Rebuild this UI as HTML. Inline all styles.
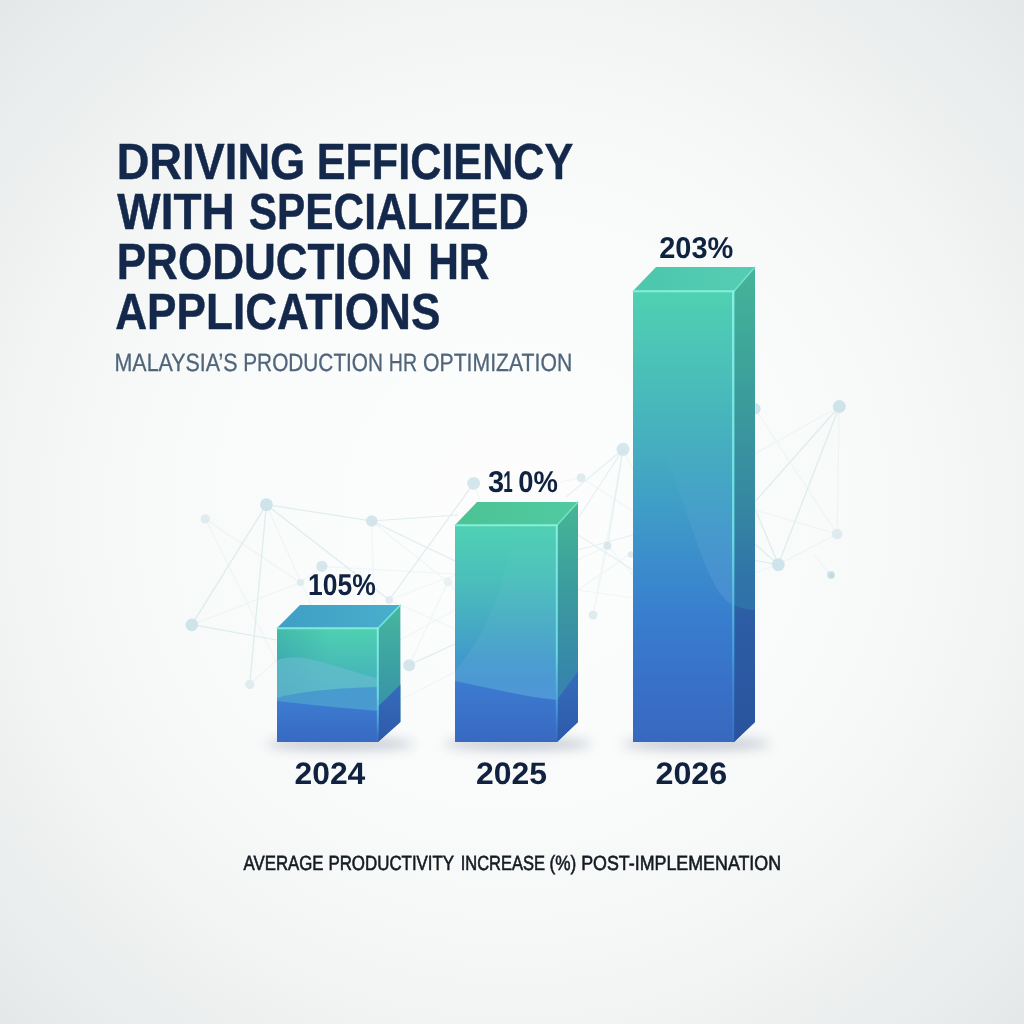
<!DOCTYPE html>
<html lang="en">
<head>
<meta charset="utf-8">
<title>Driving Efficiency with Specialized Production HR Applications</title>
<style>
html,body{margin:0;padding:0;}
body{width:1024px;height:1024px;overflow:hidden;background:#f3f4f5;font-family:"Liberation Sans",Arial,sans-serif;}
#stage{position:relative;width:1024px;height:1024px;overflow:hidden;
 background:radial-gradient(circle farthest-corner at 50% 50%, #fdfdfd 0%, #fbfcfc 22%, #f9fafa 42%, #f7f8f8 54%, #f5f6f6 62%, #f2f3f3 70%, #ebeeee 86%, #e4e8e9 100%);}
svg{position:absolute;left:0;top:0;}
text{font-family:"Liberation Sans",Arial,sans-serif;text-rendering:geometricPrecision;}
.title{font-weight:700;font-size:51px;fill:#13284a;stroke:#13284a;stroke-width:.45px;}
.sub{font-size:25px;fill:#50657a;stroke:#50657a;stroke-width:.3px;}
.val{font-weight:700;font-size:30px;fill:#0f2240;}
.year{font-weight:700;font-size:31px;fill:#10223f;}
.foot{font-size:20.5px;fill:#141a23;stroke:#141a23;stroke-width:.6px;}
.ln{stroke:#c3e0e3;stroke-width:1.25;fill:none;opacity:.52;}
.lf{stroke:#d3e5e9;stroke-width:1.15;fill:none;opacity:.27;}
.nd{fill:#cfe3ea;}
.nf{fill:#e0ebef;}
</style>
</head>
<body>
<div id="stage">
<svg id="art" width="1024" height="1024" viewBox="0 0 1024 1024">
<defs>
 <!-- front gradients (userSpace so colours land on exact y) -->
 <linearGradient id="f3" gradientUnits="userSpaceOnUse" x1="0" y1="291" x2="0" y2="742">
  <stop offset="0" stop-color="#4fd1b2"/><stop offset="0.2" stop-color="#4abdb9"/><stop offset="0.35" stop-color="#45adc0"/>
  <stop offset="0.46" stop-color="#409fc6"/><stop offset="0.6" stop-color="#3b8dcc"/><stop offset="0.73" stop-color="#387dce"/>
  <stop offset="0.86" stop-color="#3872c8"/><stop offset="1" stop-color="#3868c0"/>
 </linearGradient>
 <linearGradient id="f2" gradientUnits="userSpaceOnUse" x1="0" y1="525" x2="0" y2="742">
  <stop offset="0" stop-color="#4fd1b4"/><stop offset="0.25" stop-color="#4bbfbb"/><stop offset="0.5" stop-color="#45a6c6"/>
  <stop offset="0.62" stop-color="#4299cc"/><stop offset="0.74" stop-color="#4291d1"/><stop offset="1" stop-color="#448ed6"/>
 </linearGradient>
 <linearGradient id="f1" gradientUnits="userSpaceOnUse" x1="0" y1="628" x2="0" y2="742">
  <stop offset="0" stop-color="#4fd1b0"/><stop offset="0.3" stop-color="#48bdb6"/><stop offset="0.6" stop-color="#46acc0"/><stop offset="1" stop-color="#3f90cc"/>
 </linearGradient>
 <linearGradient id="blue" x1="0" y1="0" x2="0" y2="1">
  <stop offset="0" stop-color="#3c7cd0"/><stop offset="1" stop-color="#3869c1"/>
 </linearGradient>
 <!-- side gradients -->
 <linearGradient id="s3" gradientUnits="userSpaceOnUse" x1="0" y1="267" x2="0" y2="742">
  <stop offset="0" stop-color="#45b598"/><stop offset="0.3" stop-color="#3a9a9c"/><stop offset="0.5" stop-color="#3587a2"/><stop offset="0.66" stop-color="#2f73a8"/><stop offset="1" stop-color="#2e6cae"/>
 </linearGradient>
 <linearGradient id="s2" gradientUnits="userSpaceOnUse" x1="0" y1="502" x2="0" y2="742">
  <stop offset="0" stop-color="#47b794"/><stop offset="0.35" stop-color="#3b9d9e"/><stop offset="0.7" stop-color="#3787aa"/><stop offset="1" stop-color="#357cb2"/>
 </linearGradient>
 <linearGradient id="s1" gradientUnits="userSpaceOnUse" x1="0" y1="605" x2="0" y2="742">
  <stop offset="0" stop-color="#46b79e"/><stop offset="0.5" stop-color="#3b9ea4"/><stop offset="1" stop-color="#3788ac"/>
 </linearGradient>
 <linearGradient id="sb3" x1="0" y1="0" x2="0" y2="1"><stop offset="0" stop-color="#2d5ea6"/><stop offset="1" stop-color="#29539d"/></linearGradient>
 <linearGradient id="sb" x1="0" y1="0" x2="0" y2="1">
  <stop offset="0" stop-color="#366cbc"/><stop offset="1" stop-color="#2d5aa9"/>
 </linearGradient>
 <!-- top faces -->
 <linearGradient id="t1" x1="0" y1="0" x2="1" y2="0"><stop offset="0" stop-color="#3f9fc6"/><stop offset="1" stop-color="#49aecb"/></linearGradient>
 <linearGradient id="t2" x1="0" y1="0" x2="1" y2="0"><stop offset="0" stop-color="#4bc394"/><stop offset="1" stop-color="#52caa2"/></linearGradient>
 <linearGradient id="t3" x1="0" y1="0" x2="1" y2="0"><stop offset="0" stop-color="#4cc7ac"/><stop offset="1" stop-color="#55cdb4"/></linearGradient>
 <!-- edge highlight -->
 <linearGradient id="e3" gradientUnits="userSpaceOnUse" x1="0" y1="291" x2="0" y2="742">
  <stop offset="0" stop-color="#84f0e0"/><stop offset="0.55" stop-color="#6ad8e6"/><stop offset="0.8" stop-color="#4aa0e0" stop-opacity=".8"/><stop offset="1" stop-color="#3c78cc" stop-opacity=".3"/>
 </linearGradient>
 <linearGradient id="e2" gradientUnits="userSpaceOnUse" x1="0" y1="525" x2="0" y2="742">
  <stop offset="0" stop-color="#84f0e0"/><stop offset="0.6" stop-color="#6ad8e6"/><stop offset="0.85" stop-color="#4aa0e0" stop-opacity=".8"/><stop offset="1" stop-color="#3c78cc" stop-opacity=".3"/>
 </linearGradient>
 <linearGradient id="e1" gradientUnits="userSpaceOnUse" x1="0" y1="628" x2="0" y2="742">
  <stop offset="0" stop-color="#84f0e0"/><stop offset="0.6" stop-color="#6ad8e6"/><stop offset="0.85" stop-color="#4aa0e0" stop-opacity=".8"/><stop offset="1" stop-color="#3c78cc" stop-opacity=".3"/>
 </linearGradient>
 <linearGradient id="gl2" gradientUnits="userSpaceOnUse" x1="0" y1="525" x2="0" y2="700"><stop offset="0" stop-color="#fff" stop-opacity="0"/><stop offset="0.5" stop-color="#fff" stop-opacity=".035"/><stop offset="1" stop-color="#fff" stop-opacity=".065"/></linearGradient>
 <linearGradient id="gl3" gradientUnits="userSpaceOnUse" x1="0" y1="437" x2="0" y2="605"><stop offset="0" stop-color="#fff" stop-opacity="0"/><stop offset="0.5" stop-color="#fff" stop-opacity=".04"/><stop offset="1" stop-color="#fff" stop-opacity=".085"/></linearGradient>
 <linearGradient id="ld1" gradientUnits="userSpaceOnUse" x1="277" y1="0" x2="330" y2="0"><stop offset="0" stop-color="#1a6a9a" stop-opacity=".22"/><stop offset="1" stop-color="#1a6a9a" stop-opacity="0"/></linearGradient>
 <filter id="blur6" x="-30%" y="-200%" width="160%" height="500%"><feGaussianBlur stdDeviation="6"/></filter>
 <filter id="blur1"><feGaussianBlur stdDeviation="0.5"/></filter>
 <clipPath id="c1"><rect x="277" y="628" width="101" height="114"/></clipPath>
 <clipPath id="c2"><rect x="455" y="525" width="102" height="217"/></clipPath>
 <clipPath id="c3"><rect x="633" y="291" width="101" height="451"/></clipPath>
</defs>

<!-- NETWORK -->
<g id="net" filter="url(#blur1)">
 <!-- left cluster -->
 <path class="ln" d="M266.4 504.7L371.7 521M266.4 504.7L191.9 624.7M266.4 504.7L249.7 684.5M266.4 504.7L389.3 600M191.9 624.7L277 640"/>
 <path class="lf" d="M266.4 504.7L312 607"/>
 <path class="lf" d="M205.2 518.9L300.5 582.5M205.2 518.9L277 663M191.9 624.7L300.5 582.5M249.7 684.5L277 660M300.5 582.5L321.9 566.4"/>
 <!-- between bar1 and bar2 -->
 <path class="ln" d="M371.7 521L458 515M473.7 483.4L389.3 600M371.7 521L455 561M409.2 665L455 644"/>
 <path class="lf" d="M371.7 521L374 603M371.7 521L447.9 582L455 590M321.9 566.4L455 574M389.3 600L455 629M409.2 665L447.9 582M400 640L455 610M389.3 600L455 575M473.7 483.4L480 500M400 700L455 672"/>
 <!-- between bar2 and bar3 -->
 <path class="ln" style="opacity:.4" d="M623 449.3L566 497M623 449.3L607.5 545.7M623 449.3L579 517M578 550L633 535M578 535L633 570"/>
 <path class="lf" d="M623 449.3L593.1 615M623 449.3L633 470M581.1 477.7L633 511M578 590L633 552M578 590L633 598M607.5 545.7L578 560M607.5 545.7L633 575M581.1 477.7L560 482M593.1 615L607.5 545.7"/>
 <!-- right cluster -->
 <path class="ln" d="M839.3 406.5L778.3 564.6M839.3 406.5L755 501.7M778.3 564.6L755 508.5M778.3 564.6L755 544M778.3 564.6L755 560.5"/>
 <path class="lf" d="M839.3 406.5L755 453.8M839.3 406.5L837.1 534M755 408.7L837.1 534M778.3 564.6L837.1 534M755 510L837.1 534M778.3 564.6L755 572.8M814 555L831 575"/>
 <!-- nodes -->
 <circle class="nd" cx="266.4" cy="504.7" r="6.4"/>
 <circle class="nf" cx="205.2" cy="518.9" r="4.6"/>
 <circle class="nd" cx="191.9" cy="624.9" r="6.3"/>
 <circle class="nd" cx="321.9" cy="566.4" r="5.6" opacity=".85"/>
 <circle class="nf" cx="300.5" cy="582.5" r="3.6"/>
 <circle class="nf" cx="249.7" cy="684.5" r="4.6"/>
 <circle class="nd" cx="371.7" cy="521" r="5.8" opacity=".9"/>
 <circle class="nd" cx="473.7" cy="483.3" r="6.4" opacity=".9"/>
 <circle class="nf" cx="389.3" cy="600" r="3.8"/>
 <circle class="nd" cx="409.2" cy="665.2" r="6" opacity=".9"/>
 <circle class="nf" cx="447.9" cy="582" r="4.4" opacity=".6"/>
 <circle class="nd" cx="623" cy="449.3" r="6.5" opacity=".85"/>
 <circle class="nf" cx="581.1" cy="477.7" r="4.5"/>
 <circle class="nd" cx="607.5" cy="545.7" r="4" opacity=".8"/>
 <circle class="nf" cx="593.1" cy="615" r="4.5"/>
 <circle class="nf" cx="631" cy="554.5" r="3.2"/>
 <circle class="nd" cx="839.3" cy="406.5" r="6.4"/>
 <circle class="nd" cx="778.3" cy="564.6" r="6.4"/>
 <circle class="nf" cx="837.1" cy="534" r="5.3"/>
 <circle class="nd" cx="831" cy="575" r="4" />
 <circle cx="831.5" cy="575.5" r="2.4" fill="#c3d8df"/>
 <circle class="nd" cx="755" cy="408.7" r="5.6"/>
</g>

<!-- SHADOWS -->
<g id="shadows" filter="url(#blur6)" opacity=".5">
 <ellipse cx="340" cy="744" rx="74" ry="6" fill="#8b98aa"/>
 <ellipse cx="518" cy="744" rx="74" ry="6" fill="#8b98aa"/>
 <ellipse cx="696" cy="744" rx="74" ry="6" fill="#8b98aa"/>
</g>

<!-- BARS -->
<g id="bars">
 <!-- bar1 -->
 <polygon points="277,628 300,605 400.4,605 378,628" fill="url(#t1)"/>
 <polygon points="378,628 400.4,605 400.4,722 378,742" fill="url(#s1)"/>
 <polygon points="378,706.5 400.4,684.5 400.4,722 378,742" fill="url(#sb)"/>
 <rect x="277" y="628" width="101" height="114" fill="url(#f1)"/>
 <g clip-path="url(#c1)">
  <rect x="277" y="628" width="101" height="114" fill="url(#ld1)"/>
  <path d="M277 660C290 656 305 657 325 663C345 669 362 674 378 678.5L378 742L277 742Z" fill="#6fc0d4" opacity=".55"/>
  <path d="M277 698C300 691 340 688 378 687L378 742L277 742Z" fill="#4494d0" opacity=".8"/>
  <path d="M277 701C310 705 345 708 378 711L378 742L277 742Z" fill="url(#blue)"/>
 </g>
 <!-- bar2 -->
 <polygon points="455,525 477,502 578,502 557,525" fill="url(#t2)"/>
 <polygon points="557,525 578,502 578,722 557,742" fill="url(#s2)"/>
 <polygon points="557,700 578,671.5 578,722 557,742" fill="url(#sb)"/>
 <rect x="455" y="525" width="102" height="217" fill="url(#f2)"/>
 <g clip-path="url(#c2)">
  <path d="M512.5 525C508 580 490 630 455 671L455 742L557 742L557 525Z" fill="url(#gl2)"/>
  <path d="M455 681C490 688 525 697 557 700L557 742L455 742Z" fill="url(#blue)"/>
 </g>
 <!-- bar3 -->
 <polygon points="633,291 656,267 755,267 734,291" fill="url(#t3)"/>
 <polygon points="734,291 755,267 755,722 734,742" fill="url(#s3)"/>
 <path d="M734 605C742 609 750 610.5 755 610L755 722L734 742Z" fill="url(#sb3)"/>
 <rect x="633" y="291" width="101" height="451" fill="url(#f3)"/>
 <g clip-path="url(#c3)">
  <path d="M655 437C680 478 700 568 722 596C727 602 731 604.5 734 604.5L734 437Z" fill="url(#gl3)"/>
 </g>
 <!-- highlight edges -->
 <g fill="none" stroke-linecap="round">
  <path d="M277.5 628.3L378 628.3" stroke="#7eeadc" stroke-width="2"/>
  <path d="M378 628.3L400.2 605.3" stroke="#6fe6e6" stroke-width="1.6"/>
  <path d="M377.8 628.5L377.8 741" stroke="url(#e1)" stroke-width="2"/>
  <path d="M455.5 525.3L557 525.3" stroke="#86efd8" stroke-width="2"/>
  <path d="M557 525.3L577.8 502.3" stroke="#74e2c4" stroke-width="1.4"/>
  <path d="M556.8 525.5L556.8 741" stroke="url(#e2)" stroke-width="2"/>
  <path d="M633.5 291.3L734 291.3" stroke="#86efdc" stroke-width="2"/>
  <path d="M734 291.3L754.8 267.3" stroke="#74e2cc" stroke-width="1.4"/>
  <path d="M733.2 291.5L733.2 741" stroke="url(#e3)" stroke-width="2.4"/>
 </g>
</g>

<!-- TEXT -->
<g id="txt">
 <text class="title" y="179.4"><tspan x="116.64" textLength="188.73" lengthAdjust="spacingAndGlyphs">DRIVING</tspan> <tspan x="316.66" textLength="256.65" lengthAdjust="spacingAndGlyphs">EFFICIENCY</tspan></text>
 <text class="title" y="229.2"><tspan x="117.30" textLength="117.35" lengthAdjust="spacingAndGlyphs">WITH</tspan> <tspan x="248.87" textLength="280.05" lengthAdjust="spacingAndGlyphs">SPECIALIZED</tspan></text>
 <text class="title" y="279.4"><tspan x="116.71" textLength="296.14" lengthAdjust="spacingAndGlyphs">PRODUCTION</tspan> <tspan x="428.20" textLength="61.29" lengthAdjust="spacingAndGlyphs">HR</tspan></text>
 <text class="title" y="329.2"><tspan x="115.24" textLength="325.14" lengthAdjust="spacingAndGlyphs">APPLICATIONS</tspan></text>
 <text class="sub" y="370.9"><tspan x="114.49" textLength="123.09" lengthAdjust="spacingAndGlyphs">MALAYSIA’S</tspan> <tspan x="243.24" textLength="139.84" lengthAdjust="spacingAndGlyphs">PRODUCTION</tspan> <tspan x="388.84" textLength="28.18" lengthAdjust="spacingAndGlyphs">HR</tspan> <tspan x="423.05" textLength="149.14" lengthAdjust="spacingAndGlyphs">OPTIMIZATION</tspan></text>
 <text class="val" y="595.2"><tspan x="308.12" textLength="67.68" lengthAdjust="spacingAndGlyphs">105%</tspan></text>
 <text class="val" y="491.6"><tspan x="488.10" textLength="16.16" lengthAdjust="spacingAndGlyphs">3</tspan><tspan x="503.33" textLength="9.45" lengthAdjust="spacingAndGlyphs">1</tspan><tspan x="518.29" textLength="39.63" lengthAdjust="spacingAndGlyphs">0%</tspan></text>
 <text class="val" y="257.5"><tspan x="659.24" textLength="74.02" lengthAdjust="spacingAndGlyphs">203%</tspan></text>
 <text class="year" y="784"><tspan x="294.47" textLength="70.85" lengthAdjust="spacingAndGlyphs">2024</tspan></text>
 <text class="year" y="784"><tspan x="476.07" textLength="71.08" lengthAdjust="spacingAndGlyphs">2025</tspan></text>
 <text class="year" y="784"><tspan x="655.46" textLength="71.79" lengthAdjust="spacingAndGlyphs">2026</tspan></text>
 <text class="foot" y="870"><tspan x="243.60" textLength="79.95" lengthAdjust="spacingAndGlyphs">AVERAGE</tspan> <tspan x="328.38" textLength="125.45" lengthAdjust="spacingAndGlyphs">PRODUCTIVITY</tspan> <tspan x="460.70" textLength="84.35" lengthAdjust="spacingAndGlyphs">INCREASE</tspan> <tspan x="549.56" textLength="26.73" lengthAdjust="spacingAndGlyphs">(%)</tspan> <tspan x="581.13" textLength="199.97" lengthAdjust="spacingAndGlyphs">POST-IMPLEMENATION</tspan></text>
</g>
</svg>
</div>
</body>
</html>
